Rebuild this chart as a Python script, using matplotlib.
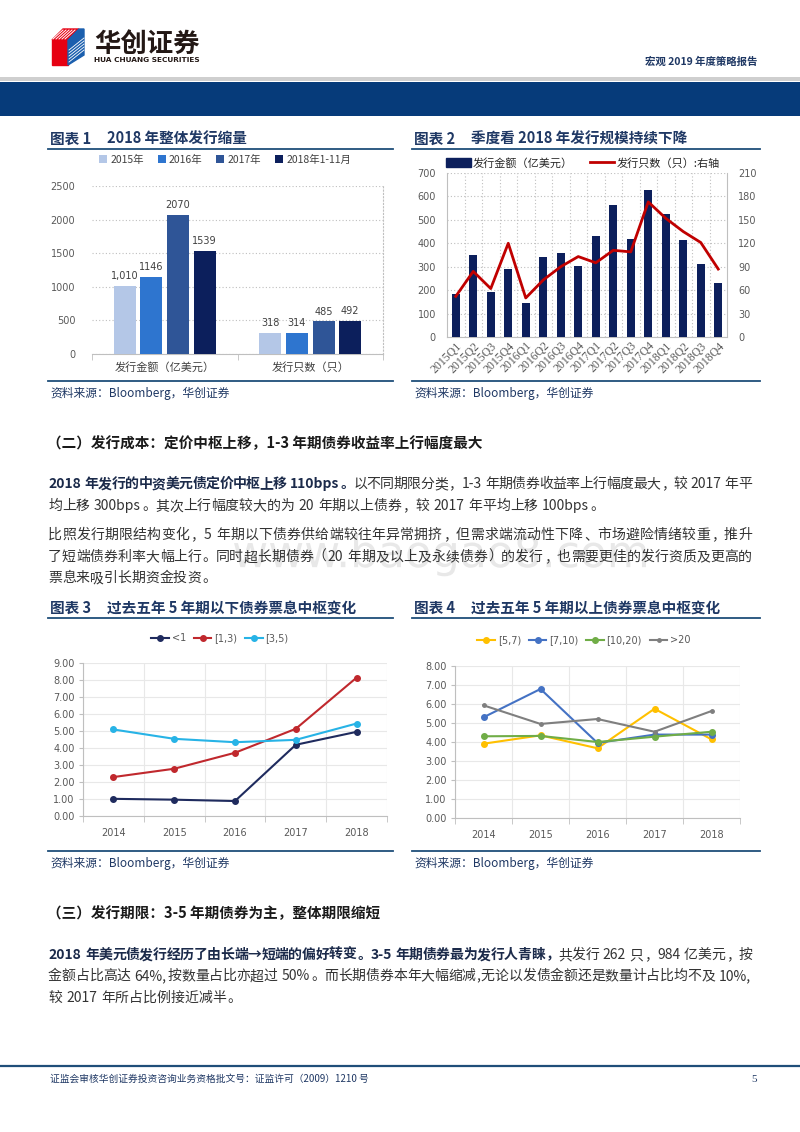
import matplotlib
matplotlib.use('Agg')
import matplotlib.pyplot as plt
from matplotlib.patches import Rectangle, Polygon, Patch, PathPatch
from matplotlib.lines import Line2D
from matplotlib.textpath import TextPath
from matplotlib.font_manager import FontProperties
from matplotlib.transforms import Affine2D
import numpy as np

plt.rcParams['font.family'] = ['Noto Sans CJK SC', 'DejaVu Sans']

W, H = 800, 1132

# 图表1 数据
c1_groups = ['发行金额（亿美元）', '发行只数（只）']
c1_series = ['2015年', '2016年', '2017年', '2018年1-11月']
c1_2015 = [1010, 318]
c1_2016 = [1146, 314]
c1_2017 = [2070, 485]
c1_2018 = [1539, 492]
c1_2015_text = ['1,010', '318']
c1_colors = ['#b4c7e7', '#2e75cf', '#2f5597', '#0c1f5c']

# 图表2 数据
c2_quarters = ['2015Q1', '2015Q2', '2015Q3', '2015Q4', '2016Q1', '2016Q2', '2016Q3', '2016Q4',
               '2017Q1', '2017Q2', '2017Q3', '2017Q4', '2018Q1', '2018Q2', '2018Q3', '2018Q4']
c2_amount = [183, 351, 190, 290, 143, 341, 359, 304, 430, 565, 419, 628, 525, 412, 310, 230]
c2_count = [52, 84, 62, 120, 50, 73, 90, 103, 95, 111, 109, 173, 152, 135, 121, 87]

# 图表3/4 数据
years = ['2014', '2015', '2016', '2017', '2018']
c3_lt1 = [1.01, 0.96, 0.88, 4.19, 4.95]
c3_1_3 = [2.29, 2.78, 3.72, 5.13, 8.14]
c3_3_5 = [5.09, 4.54, 4.34, 4.48, 5.44]
c4_5_7 = [3.91, 4.35, 3.67, 5.75, 4.14]
c4_7_10 = [5.30, 6.79, 3.95, 4.39, 4.39]
c4_10_20 = [4.30, 4.32, 4.00, 4.28, 4.54]
c4_gt20 = [5.93, 4.95, 5.21, 4.54, 5.63]

NAVY = '#1f3864'
GRAY_TXT = '#595959'


def px_rect(x0, y0, x1, y1):
    """像素坐标 -> figure 坐标"""
    return [x0 / W, 1 - y1 / H, (x1 - x0) / W, (y1 - y0) / H]


fig = plt.figure(figsize=(W / 100, H / 100), dpi=100)
bg = fig.add_axes([0, 0, 1, 1])
bg.set_xlim(0, W)
bg.set_ylim(H, 0)
bg.axis('off')
renderer = fig.canvas.get_renderer()

# ---------- 页眉 ----------
bg.add_patch(Polygon([(52, 40), (68, 40), (68, 65), (52, 65)], closed=True, color='#e60012'))
bg.add_patch(Polygon([(52, 40), (63, 29), (79, 29), (68, 40)], closed=True, color='#e60012'))
bg.add_patch(Polygon([(68, 40), (79, 29), (84, 29), (84, 55), (68, 65)], closed=True, color='#1b5fae'))
for k in range(5):
    bg.plot([53 + k * 3, 63 + k * 3], [39, 30], color='white', lw=0.7)
    bg.plot([69, 84], [50 + k * 3, 38 + k * 3], color='white', lw=0.6)
bg.text(94, 44, '华创证券', fontsize=19, fontweight='bold', color='#231815', va='center')
bg.text(94, 60.5, 'HUA CHUANG SECURITIES', fontsize=5.3, fontweight='bold', color='#231815',
        va='center', family='DejaVu Sans')
bg.text(757, 62, '宏观 2019 年度策略报告', fontsize=7.5, fontweight='bold', color=NAVY,
        ha='right', va='center')
bg.add_patch(Rectangle((0, 77), W, 4, color='#cfcfcf', lw=0))
bg.add_patch(Rectangle((0, 82), W, 34, color='#063b7a', lw=0))

# 水印（轮廓路径，铺在正文下面）
wm = TextPath((0, 0), 'www.baogao8.com', size=44, prop=FontProperties(family='DejaVu Sans'))
ext = wm.get_extents()
wm_tr = Affine2D().translate(-(ext.x0 + ext.x1) / 2, -(ext.y0 + ext.y1) / 2).scale(1, -1) \
    .translate(440, 555)
bg.add_patch(PathPatch(wm_tr.transform_path(wm), color='#e8e8e8', lw=0, zorder=0))


def chart_title(x, y, num, title, line_x1):
    bg.text(x, y, '图表 ' + num, fontsize=10.5, fontweight='bold', color=NAVY, va='center')
    bg.text(x + 57, y, title, fontsize=10.5, fontweight='bold', color=NAVY, va='center')
    bg.plot([x - 2, line_x1], [y + 10, y + 10], color='#1f4e79', lw=1.3)


def chart_source(x, y, line_x1):
    bg.plot([x - 2, line_x1], [y - 12, y - 12], color='#1f4e79', lw=1.3)
    bg.text(x, y, '资料来源：Bloomberg，华创证券', fontsize=8.5, color=NAVY, va='center',
            style='italic')


chart_title(50, 139, '1', '2018 年整体发行缩量', 393)
chart_title(414, 139, '2', '季度看 2018 年发行规模持续下降', 760)
chart_title(50, 608, '3', '过去五年 5 年期以下债券票息中枢变化', 393)
chart_title(414, 608, '4', '过去五年 5 年期以上债券票息中枢变化', 760)
chart_source(50, 393, 393)
chart_source(414, 393, 760)
chart_source(50, 863, 393)
chart_source(414, 863, 760)

# ---------- 图表1 ----------
ax1 = fig.add_axes(px_rect(92, 186, 383, 354))
x = np.arange(len(c1_groups))
bw = 0.152
step = 0.183
series_vals = [c1_2015, c1_2016, c1_2017, c1_2018]
for i, vals in enumerate(series_vals):
    pos = x + (i - 1.5) * step
    ax1.bar(pos, vals, width=bw, color=c1_colors[i], label=c1_series[i], zorder=3)
    texts = c1_2015_text if i == 0 else [str(v) for v in vals]
    for p, v, t in zip(pos, vals, texts):
        ax1.text(p, v + 70, t, ha='center', va='bottom', fontsize=7, color='#404040',
                 family='DejaVu Sans')
ax1.set_xlim(-0.5, 1.5)
ax1.set_ylim(0, 2500)
ax1.set_yticks(np.arange(0, 2501, 500))
ax1.grid(axis='y', ls=(0, (1, 2)), color='#bfbfbf', lw=0.8, zorder=0)
ax1.set_xticks(x)
ax1.set_xticklabels(c1_groups, fontsize=8, color='#404040')
ax1.set_xticks([-0.5, 0.5, 1.5], minor=True)
ax1.tick_params(axis='x', which='major', length=0, pad=6)
ax1.tick_params(axis='x', which='minor', length=4, color='#bfbfbf', direction='out')
ax1.tick_params(axis='y', length=0, labelsize=7, labelcolor=GRAY_TXT, pad=12)
for lab in ax1.get_yticklabels():
    lab.set_family('DejaVu Sans')
for s in ['top', 'left']:
    ax1.spines[s].set_visible(False)
ax1.spines['right'].set_linestyle((0, (1, 2)))
ax1.spines['right'].set_color('#bfbfbf')
ax1.spines['bottom'].set_color('#bfbfbf')
ax1.legend(loc='center', bbox_to_anchor=(225 / W, 1 - 160 / H), bbox_transform=fig.transFigure,
           ncol=4, frameon=False, fontsize=7.5, handlelength=0.8, handleheight=0.8,
           handletextpad=0.3, columnspacing=1.3, labelcolor='#404040')

# ---------- 图表2 ----------
ax2 = fig.add_axes(px_rect(447, 173, 727, 337))
xq = np.arange(len(c2_quarters))
ax2.bar(xq, c2_amount, width=0.45, color='#0c1f5c', zorder=3)
ax2.set_xlim(-0.5, len(xq) - 0.5)
ax2.set_ylim(0, 700)
ax2.set_yticks(np.arange(0, 701, 100))
ax2.grid(axis='y', ls=(0, (1, 2)), color='#bfbfbf', lw=0.8, zorder=0)
ax2.set_xticks(xq)
ax2.set_xticklabels(c2_quarters, rotation=45, ha='right', rotation_mode='anchor',
                    fontsize=8.5, color=GRAY_TXT, family='Liberation Serif')
ax2.set_xticks(xq[:-1] + 0.5, minor=True)
ax2.grid(axis='x', which='minor', ls=(0, (1, 2)), color='#bfbfbf', lw=0.8, zorder=0)
ax2.tick_params(axis='x', which='both', length=0, pad=2)
ax2.tick_params(axis='y', length=0, labelsize=7, labelcolor=GRAY_TXT, pad=8)
for lab in ax2.get_yticklabels():
    lab.set_family('DejaVu Sans')
ax2.spines['top'].set_visible(False)
for s in ['left', 'right', 'bottom']:
    ax2.spines[s].set_color('#bfbfbf')
ax2r = ax2.twinx()
ax2r.plot(xq, c2_count, color='#c00000', lw=2, zorder=4)
ax2r.set_ylim(0, 210)
ax2r.set_yticks(np.arange(0, 211, 30))
ax2r.tick_params(axis='y', length=0, labelsize=7, labelcolor=GRAY_TXT, pad=8)
for lab in ax2r.get_yticklabels():
    lab.set_family('DejaVu Sans')
for s in ['top', 'left', 'right', 'bottom']:
    ax2r.spines[s].set_visible(False)
handles2 = [Patch(color='#0c1f5c'), Line2D([], [], color='#c00000', lw=2)]
ax2.legend(handles2, ['发行金额（亿美元）', '发行只数（只）:右轴'], loc='center',
           bbox_to_anchor=(583 / W, 1 - 163 / H), bbox_transform=fig.transFigure, ncol=2,
           frameon=False, fontsize=8, handlelength=2.2, handleheight=0.8, handletextpad=0.2,
           columnspacing=1.5, labelcolor='#262626')


# ---------- 图表3 / 图表4 ----------
def line_chart(rect, series, names, colors, sizes, ymax, legend_xy, col_space):
    ax = fig.add_axes(px_rect(*rect))
    xx = np.arange(len(years))
    for vals, name, c, ms in zip(series, names, colors, sizes):
        ax.plot(xx, vals, color=c, lw=1.5, marker='o', ms=ms, label=name, zorder=3)
    ax.set_xlim(-0.5, len(years) - 0.5)
    ax.set_ylim(0, ymax)
    ax.set_yticks(np.arange(0, ymax + 0.1, 1))
    ax.set_yticklabels([f'{v:.2f}' for v in np.arange(0, ymax + 0.1, 1)])
    ax.set_xticks(xx)
    ax.set_xticklabels(years)
    ax.set_xticks(np.arange(-0.5, len(years)), minor=True)
    ax.grid(axis='y', color='#e8e8e8', lw=0.8, zorder=0)
    ax.grid(axis='x', which='minor', color='#e8e8e8', lw=0.8, zorder=0)
    ax.tick_params(axis='x', which='major', length=0, pad=9, labelsize=7, labelcolor=GRAY_TXT)
    ax.tick_params(axis='x', which='minor', length=4, color='#bfbfbf', direction='out')
    ax.tick_params(axis='y', length=3, color='#bfbfbf', labelsize=7, labelcolor=GRAY_TXT, pad=3)
    for lab in ax.get_xticklabels() + ax.get_yticklabels():
        lab.set_family('DejaVu Sans')
    for s in ['top', 'right']:
        ax.spines[s].set_visible(False)
    for s in ['left', 'bottom']:
        ax.spines[s].set_color('#bfbfbf')
    ax.legend(loc='center', bbox_to_anchor=(legend_xy[0] / W, 1 - legend_xy[1] / H),
              bbox_transform=fig.transFigure, ncol=len(names), frameon=False,
              prop={'family': 'DejaVu Sans', 'size': 7}, labelcolor=GRAY_TXT,
              handlelength=1.8, handletextpad=0.3, columnspacing=col_space)
    return ax


line_chart((83, 663, 387, 816), [c3_lt1, c3_1_3, c3_3_5], ['<1', '[1,3)', '[3,5)'],
           ['#1f2b5e', '#c0282d', '#27b3e6'], [4, 4, 4], 9, (220, 638), 0.8)
line_chart((455, 666, 740, 818), [c4_5_7, c4_7_10, c4_10_20, c4_gt20],
           ['[5,7)', '[7,10)', '[10,20)', '>20'],
           ['#ffc000', '#4472c4', '#70ad47', '#7f7f7f'], [4, 4, 4, 2.5], 8, (584, 640), 0.8)


# ---------- 正文（逐字排版，两端对齐） ----------
BOLD_C = '#1b2a4a'
REG_C = '#333333'


def split_tokens(runs):
    out = []
    for txt, bold in runs:
        i = 0
        while i < len(txt):
            ch = txt[i]
            if ch == ' ':
                out.append((' ', bold))
                i += 1
            elif ord(ch) < 128:
                j = i
                while j < len(txt) and ord(txt[j]) < 128 and txt[j] != ' ':
                    j += 1
                out.append((txt[i:j], bold))
                i = j
            else:
                out.append((ch, bold))
                i += 1
    return out


def draw_line(y, runs, justify, x0=48, x1=752, size=10):
    em = size * 100 / 72
    base = y + 0.37 * em
    toks = split_tokens(runs)
    items = []
    for tok, bold in toks:
        if tok == ' ':
            items.append((None, 0.25 * em, tok))
            continue
        t = bg.text(0, base, tok, fontsize=size, va='baseline',
                    fontweight='bold' if bold else 'normal',
                    color=BOLD_C if bold else REG_C)
        if ord(tok[0]) < 128:
            w = t.get_window_extent(renderer=renderer).width + 0.1 * em
        else:
            w = em
        items.append((t, w, tok))
    total = sum(w for _, w, _ in items)
    gap = (x1 - x0 - total) / (len(items) - 1) if justify else 0
    cx = x0
    for t, w, tok in items:
        if t is not None:
            if ord(tok[0]) < 128:
                t.set_x(cx + 0.05 * em)
            elif tok in '，。、：；':
                t.set_x(cx + 0.08 * em)
            elif tok == '（':
                t.set_ha('right')
                t.set_x(cx + 0.92 * em)
            elif tok == '）':
                t.set_x(cx + 0.08 * em)
            else:
                t.set_ha('center')
                t.set_x(cx + w / 2)
        cx += w + gap


bg.text(47, 443, '（二）发行成本：定价中枢上移，1-3 年期债券收益率上行幅度最大', fontsize=10.5,
        fontweight='bold', color='#1a1a1a', va='center')
bg.text(47, 913, '（三）发行期限：3-5 年期债券为主，整体期限缩短', fontsize=10.5,
        fontweight='bold', color='#1a1a1a', va='center')

para_lines = [
    (483, True, [('2018 年发行的中资美元债定价中枢上移 110bps。', True),
                 ('以不同期限分类，1-3 年期债券收益率上行幅度最大，较 2017 年平', False)]),
    (505, False, [('均上移 300bps。其次上行幅度较大的为 20 年期以上债券，较 2017 年平均上移 100bps。', False)]),
    (534, True, [('比照发行期限结构变化，5 年期以下债券供给端较往年异常拥挤，但需求端流动性下降、市场避险情绪较重，推升', False)]),
    (556, True, [('了短端债券利率大幅上行。同时超长期债券（20 年期及以上及永续债券）的发行，也需要更佳的发行资质及更高的', False)]),
    (577, False, [('票息来吸引长期资金投资。', False)]),
    (954, True, [('2018 年美元债发行经历了由长端→短端的偏好转变。3-5 年期债券最为发行人青睐，', True),
                 ('共发行 262 只，984 亿美元，按', False)]),
    (975, True, [('金额占比高达 64%,按数量占比亦超过 50%。而长期债券本年大幅缩减,无论以发债金额还是数量计占比均不及 10%,', False)]),
    (997, False, [('较 2017 年所占比例接近减半。', False)]),
]
for y, just, runs in para_lines:
    draw_line(y, runs, just)

# ---------- 页脚 ----------
bg.plot([0, W], [1066, 1066], color='#1f4e79', lw=1.6)
bg.text(50, 1079, '证监会审核华创证券投资咨询业务资格批文号：证监许可（2009）1210 号', fontsize=7,
        color=NAVY, va='center')
bg.text(757, 1079, '5', fontsize=8, color=NAVY, ha='right', va='center', family='Liberation Serif')

fig.savefig('out.png', dpi=100)
